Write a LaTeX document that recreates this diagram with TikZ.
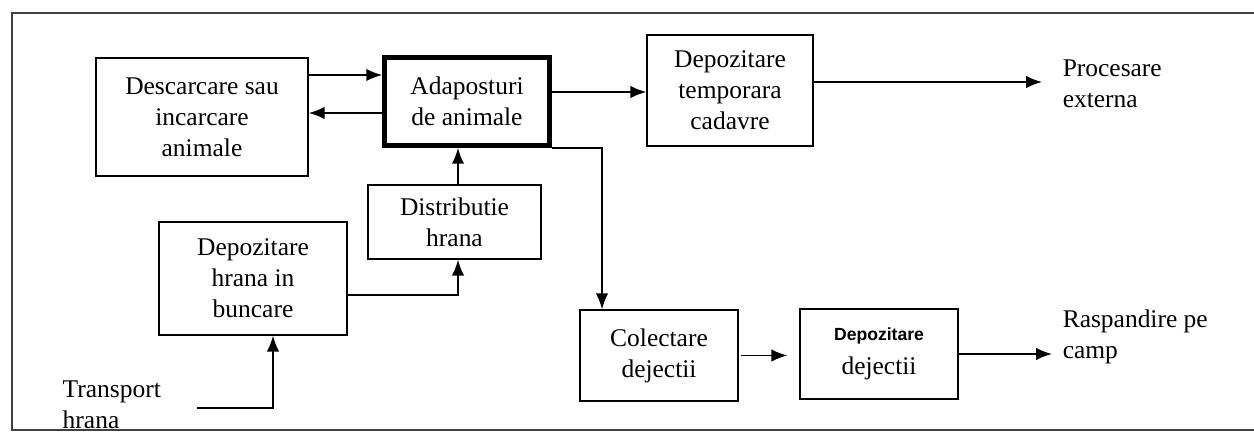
\documentclass[tikz,border=0pt]{standalone}
\usepackage{fontspec}
\setmainfont{Liberation Serif}
\newfontfamily\smallsans{Liberation Sans}
\usepackage{tikz}
\usetikzlibrary{arrows.meta, calc}
\tikzset{
  font={\fontsize{14.5pt}{17.6pt}\selectfont}}

\begin{document}
\begin{tikzpicture}[x=0.02cm, y=-0.02cm, line width=0.85pt,
  box/.style={draw, shape=rectangle, align=center, inner sep=0pt},
  lbl/.style={anchor=west, align=left, inner sep=0pt},
  arr/.style={-{Latex[length=9pt,width=7pt]}}]
\useasboundingbox (0,0) rectangle (1254,435);
\draw[line width=0.9pt, black!75] (1264,13) -- (12,13) -- (12,430) -- (1264,430);

\node (desc) [box, minimum width=4.24cm, minimum height=2.36cm] at (202,117) {Descarcare sau\\incarcare\\animale};
\node (adap) [box, line width=3pt, minimum width=3.29cm, minimum height=1.75cm] at (467,101.5) {Adaposturi\\de animale};
\node (cad) [box, minimum width=3.32cm, minimum height=2.22cm] at (730,90.5) {Depozitare\\temporara\\cadavre};
\node (distr) [box, minimum width=3.46cm, minimum height=1.48cm] at (454.5,222) {Distributie\\hrana};
\node (buncar) [box, minimum width=3.76cm, minimum height=2.26cm] at (253,278.5) {Depozitare\\hrana in\\buncare};
\node (colect) [box, minimum width=3.16cm, minimum height=1.82cm] at (659,355.5) {Colectare\\dejectii};
\node (dejec) [box, minimum width=3.16cm, minimum height=1.8cm] at (879,354) {{\smallsans\bfseries\fontsize{10pt}{12pt}\selectfont Depozitare}\\[2pt]dejectii};
\node (proc) [lbl] at (1062,84) {Procesare\\externa};
\node (rasp) [lbl] at (1062,337) {Raspandire pe\\camp};
\node (trans) [lbl] at (62,405) {Transport\\hrana};
\coordinate (tin) at (197,408);

\draw[arr] ([yshift=0.84cm]desc.east) -- ([yshift=0.84cm]desc.east -| adap.west);
\draw[arr] ([yshift=-0.23cm]adap.west) -- ([yshift=-0.23cm]adap.west -| desc.east);
\draw[arr] ([yshift=0.19cm]adap.east) -- ([yshift=0.19cm]adap.east -| cad.west);
\draw[arr, shorten >=0.4cm] ([yshift=0.17cm]cad.east) -- ([yshift=0.17cm]cad.east -| proc.west);
\draw[arr] ([xshift=0.07cm]distr.north) -- ([xshift=0.07cm]distr.north |- adap.south);
\draw[arr] ([yshift=-0.33cm]buncar.east) -| ([xshift=0.07cm]distr.south);
\draw[arr] (tin) -| ([xshift=0.4cm]buncar.south);
\draw[arr] (adap.south east) -| ([xshift=-1.14cm]colect.north);
\draw[arr, shorten <=0.04cm, shorten >=0.24cm] (colect.east) -- (colect.east -| dejec.west);
\draw[arr, shorten >=0.2cm] (dejec.east) -- (dejec.east -| rasp.west);
\end{tikzpicture}
\end{document}
